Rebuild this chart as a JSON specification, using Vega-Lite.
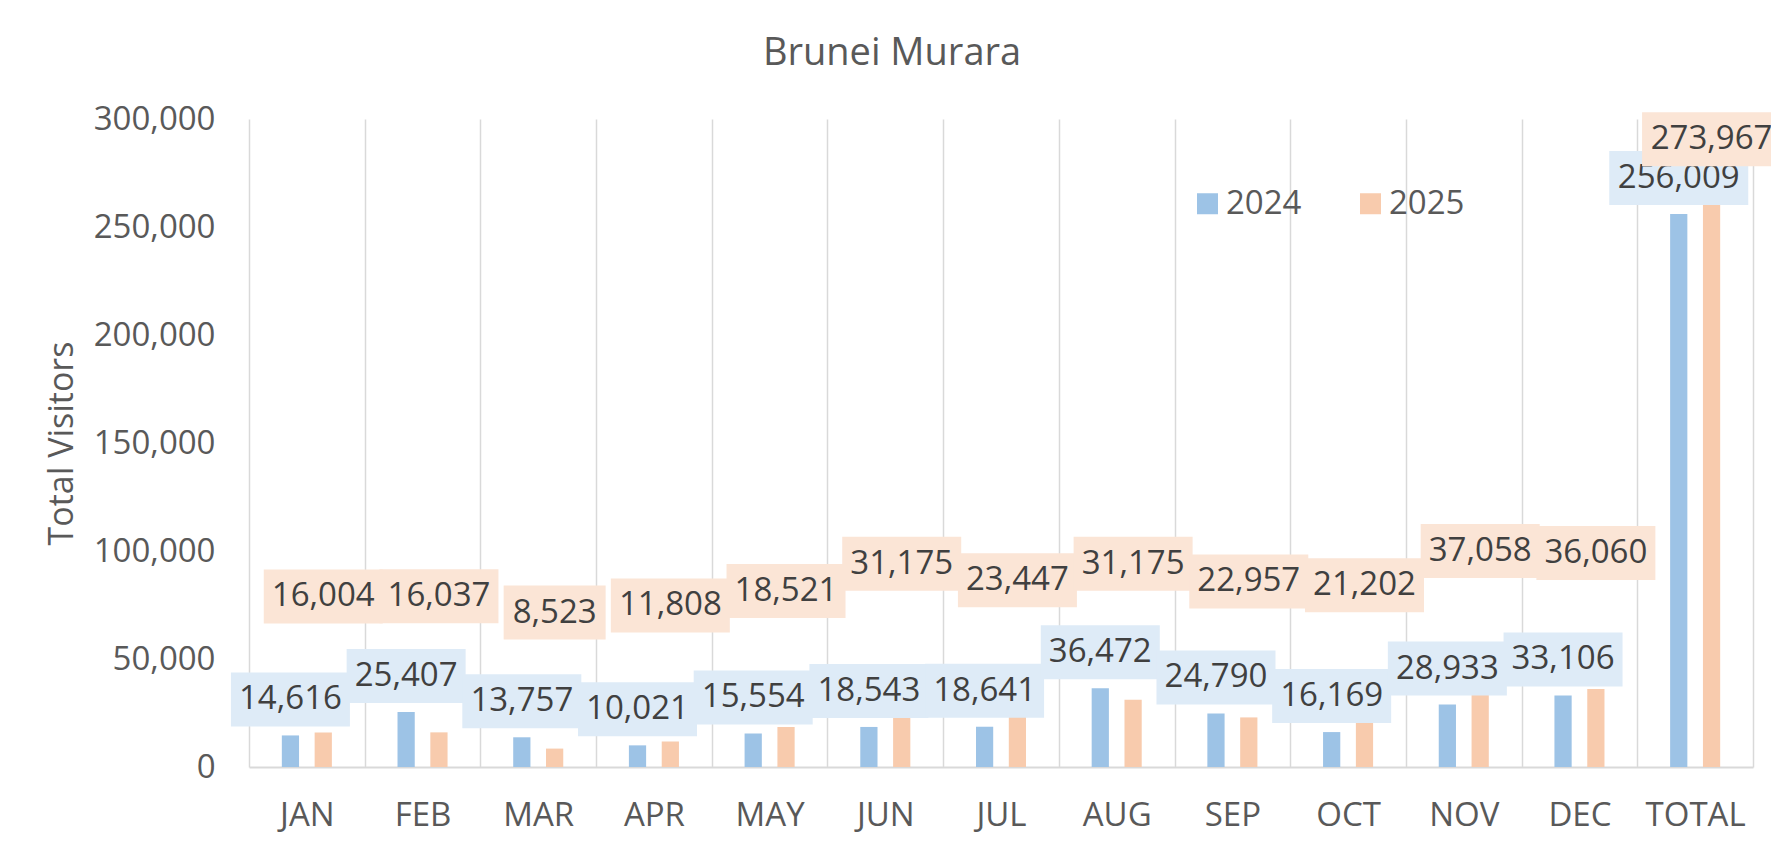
{
  "$schema": "https://vega.github.io/schema/vega-lite/v6.json",
  "autosize": {"type": "none"},
  "width": 1504,
  "height": 648,
  "padding": {"left": 249, "top": 119, "right": 18, "bottom": 83},
  "background": "white",
  "config": {
    "view": {"stroke": null},
    "font": "Open Sans"
  },
  "title": {
    "text": "Brunei Murara",
    "font": "Open Sans",
    "fontSize": 38,
    "fontWeight": "normal",
    "color": "#595959",
    "anchor": "middle",
    "frame": "group",
    "baseline": "bottom",
    "dx": -109,
    "offset": -8
  },
  "data": {
    "values": [
      {"month": "JAN", "year": "2024", "value": 14616},
      {"month": "JAN", "year": "2025", "value": 16004},
      {"month": "FEB", "year": "2024", "value": 25407},
      {"month": "FEB", "year": "2025", "value": 16037},
      {"month": "MAR", "year": "2024", "value": 13757},
      {"month": "MAR", "year": "2025", "value": 8523},
      {"month": "APR", "year": "2024", "value": 10021},
      {"month": "APR", "year": "2025", "value": 11808},
      {"month": "MAY", "year": "2024", "value": 15554},
      {"month": "MAY", "year": "2025", "value": 18521},
      {"month": "JUN", "year": "2024", "value": 18543},
      {"month": "JUN", "year": "2025", "value": 31175},
      {"month": "JUL", "year": "2024", "value": 18641},
      {"month": "JUL", "year": "2025", "value": 23447},
      {"month": "AUG", "year": "2024", "value": 36472},
      {"month": "AUG", "year": "2025", "value": 31175},
      {"month": "SEP", "year": "2024", "value": 24790},
      {"month": "SEP", "year": "2025", "value": 22957},
      {"month": "OCT", "year": "2024", "value": 16169},
      {"month": "OCT", "year": "2025", "value": 21202},
      {"month": "NOV", "year": "2024", "value": 28933},
      {"month": "NOV", "year": "2025", "value": 37058},
      {"month": "DEC", "year": "2024", "value": 33106},
      {"month": "DEC", "year": "2025", "value": 36060},
      {"month": "TOTAL", "year": "2024", "value": 256009},
      {"month": "TOTAL", "year": "2025", "value": 273967}
    ]
  },
  "encoding": {
    "x": {
      "field": "month",
      "type": "nominal",
      "sort": null,
      "scale": {"paddingInner": 0, "paddingOuter": 0},
      "axis": {
        "title": null,
        "labelAngle": 0,
        "grid": true,
        "tickBand": "extent",
        "gridColor": "#d9d9d9",
        "gridWidth": 1.5,
        "ticks": false,
        "tickSize": 0,
        "domain": true,
        "domainColor": "#d9d9d9",
        "domainWidth": 2,
        "labelPadding": 32,
        "labelFont": "Open Sans",
        "labelFontSize": 33,
        "labelColor": "#595959"
      }
    },
    "xOffset": {
      "field": "year",
      "type": "nominal",
      "scale": {"paddingInner": 0.475, "paddingOuter": 1.14}
    },
    "y": {
      "field": "value",
      "type": "quantitative",
      "scale": {"domain": [0, 300000], "nice": false},
      "axis": {
        "title": "Total Visitors",
        "titleFont": "Open Sans",
        "titleFontSize": 34,
        "titleFontWeight": "normal",
        "titleColor": "#595959",
        "titlePadding": 14,
        "grid": false,
        "domain": false,
        "ticks": false,
        "tickSize": 0,
        "values": [0, 50000, 100000, 150000, 200000, 250000, 300000],
        "format": ",.0f",
        "labelPadding": 34,
        "labelFont": "Open Sans",
        "labelFontSize": 33,
        "labelColor": "#595959"
      }
    }
  },
  "layer": [
    {
      "mark": {"type": "bar"},
      "encoding": {
        "color": {
          "field": "year",
          "type": "nominal",
          "scale": {"domain": ["2024", "2025"], "range": ["#9dc3e6", "#f8cbad"]},
          "legend": {
            "title": null,
            "orient": "none",
            "legendX": 942,
            "legendY": 68,
            "direction": "horizontal",
            "symbolType": "square",
            "symbolSize": 441,
            "symbolStrokeWidth": 0,
            "labelFont": "Open Sans",
            "labelFontSize": 33,
            "labelColor": "#595959",
            "labelOffset": 2,
            "columnPadding": 52,
            "padding": 0
          }
        }
      }
    },
    {
      "transform": [{"filter": "datum.year == '2024' && datum.month != 'TOTAL'"}],
      "mark": {"type": "bar", "width": 119, "color": "#deebf7", "yOffset": -63, "y2Offset": -9},
      "encoding": {"y2": {"field": "value"}}
    },
    {
      "transform": [{"filter": "datum.year == '2024' && datum.month == 'TOTAL'"}],
      "mark": {"type": "bar", "width": 139, "color": "#deebf7", "yOffset": -63, "y2Offset": -9},
      "encoding": {"y2": {"field": "value"}}
    },
    {
      "transform": [{"filter": "datum.year == '2024'"}],
      "mark": {"type": "text", "font": "Open Sans", "fontSize": 33, "color": "#404040", "baseline": "middle", "dy": -36},
      "encoding": {"text": {"field": "value", "type": "quantitative", "format": ","}}
    },
    {
      "transform": [{"filter": "datum.year == '2025' && datum.month != 'TOTAL' && datum.value >= 10000"}],
      "mark": {"type": "bar", "width": 119, "color": "#fbe5d6", "yOffset": -163, "y2Offset": -109},
      "encoding": {"y2": {"field": "value"}}
    },
    {
      "transform": [{"filter": "datum.year == '2025' && datum.value < 10000"}],
      "mark": {"type": "bar", "width": 102, "color": "#fbe5d6", "yOffset": -163, "y2Offset": -109},
      "encoding": {"y2": {"field": "value"}}
    },
    {
      "transform": [{"filter": "datum.year == '2025' && datum.month == 'TOTAL'"}],
      "mark": {"type": "bar", "width": 139, "color": "#fbe5d6", "yOffset": -63, "y2Offset": -9},
      "encoding": {"y2": {"field": "value"}}
    },
    {
      "transform": [{"filter": "datum.year == '2025' && datum.month != 'TOTAL'"}],
      "mark": {"type": "text", "font": "Open Sans", "fontSize": 33, "color": "#404040", "baseline": "middle", "dy": -136},
      "encoding": {"text": {"field": "value", "type": "quantitative", "format": ","}}
    },
    {
      "transform": [{"filter": "datum.year == '2025' && datum.month == 'TOTAL'"}],
      "mark": {"type": "text", "font": "Open Sans", "fontSize": 33, "color": "#404040", "baseline": "middle", "dy": -36},
      "encoding": {"text": {"field": "value", "type": "quantitative", "format": ","}}
    }
  ]
}
